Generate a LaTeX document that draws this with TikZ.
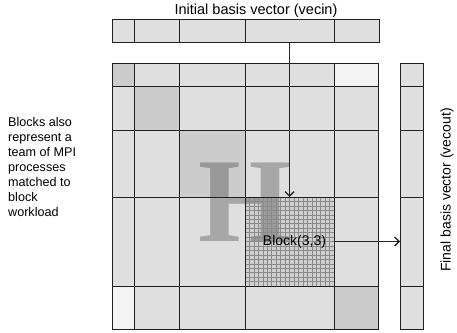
\documentclass[tikz,border=0pt]{standalone}
\usepackage{fontspec}
\setmainfont{Liberation Sans}
\newfontfamily\serifH{Liberation Serif}
\usetikzlibrary{arrows.meta}
\definecolor{cellA}{HTML}{DFDFDF}
\definecolor{cellD}{HTML}{CCCCCC}
\definecolor{cellL}{HTML}{F3F3F3}
\definecolor{cellG}{HTML}{CFCFCF}
\definecolor{gridc}{HTML}{8A8A8A}
\begin{document}
\begin{tikzpicture}[x=1pt,y=-1pt,
  cellfill/.style={draw=none, inner sep=0pt, outer sep=0pt},
  border/.style={draw=black!88, line width=0.8pt},
  gridline/.style={draw=gridc, line width=0.5pt},
  conn/.style={draw=black!85, line width=0.8pt, -{Straight Barb[length=4.5pt,width=9pt,line width=1.4pt]}},
  lbl/.style={inner sep=0pt, text=black}]
\useasboundingbox (0,0) rectangle (457,332);
% matrix cells
\foreach \r/\ya/\yb in {1/63/86, 2/86/130, 3/130/197, 4/197/286, 5/286/329}
 \foreach \c/\xa/\xb in {1/112/134, 2/134/179, 3/179/245, 4/245/334, 5/334/378}{
  \def\cc{cellA}
  \ifnum\r=\c \def\cc{cellD}\fi
  \ifnum\r=4 \ifnum\c=4 \def\cc{cellG}\fi\fi
  \ifnum\r=1 \ifnum\c=5 \def\cc{cellL}\fi\fi
  \ifnum\r=5 \ifnum\c=1 \def\cc{cellL}\fi\fi
  \node[cellfill, fill=\cc, minimum width={(\xb-\xa)*1pt}, minimum height={(\yb-\ya)*1pt}] (m-\r-\c) at ({(\xa+\xb)/2},{(\ya+\yb)/2}) {};
 }
% top vector
\foreach \c/\xa/\xb in {1/112/134, 2/134/179, 3/179/245, 4/245/334, 5/334/379}
  \node[cellfill, fill=cellA, minimum width={(\xb-\xa)*1pt}, minimum height=23pt] (v\c) at ({(\xa+\xb)/2},30.5) {};
% right vector
\foreach \r/\ya/\yb in {1/63/86, 2/86/130, 3/130/197, 4/197/286, 5/286/329}
  \node[cellfill, fill=cellA, minimum width=23pt, minimum height={(\yb-\ya)*1pt}] (r\r) at (411.5,{(\ya+\yb)/2}) {};
% big H
\node[inner sep=0pt, font=\serifH\bfseries\fontsize{120}{120}\selectfont, text=black, text opacity=0.25] (H) at (245,202.5) {H};
% fine grid in block (3,3)
\foreach \k in {1,...,19}{
  \draw[gridline] ({245+\k*4.45},197) -- ({245+\k*4.45},286);
  \draw[gridline] (245,{197+\k*4.45}) -- (334,{197+\k*4.45});
}
% borders
\foreach \r in {1,...,5}{
  \foreach \c in {1,...,5}{
    \draw[border] (m-\r-\c.north west) rectangle (m-\r-\c.south east);
  }
  \draw[border] (v\r.north west) rectangle (v\r.south east);
  \draw[border] (r\r.north west) rectangle (r\r.south east);
}
% labels
\node[lbl, anchor=base, font=\fontsize{14.5}{16}\selectfont] (lin) at (256,14.5) {Initial basis vector (vecin)};
\node[lbl, rotate=90, font=\fontsize{14}{16}\selectfont] (lout) at (447,190) {Final basis vector (vecout)};
\node[lbl, anchor=north west, align=left, font=\fontsize{12.6}{15}\selectfont] (note) at (8,117)
  {Blocks also\\represent a\\team of MPI\\processes\\matched to\\block\\workload};
\node[lbl, font=\fontsize{14}{16}\selectfont] (blk) at (294.5,241.5) {Block(3,3)};
% connectors
\draw[conn] (v4.south) -- (m-4-4.north);
\draw[conn] (m-4-4.east) -- (r4.west);
\end{tikzpicture}
\end{document}
